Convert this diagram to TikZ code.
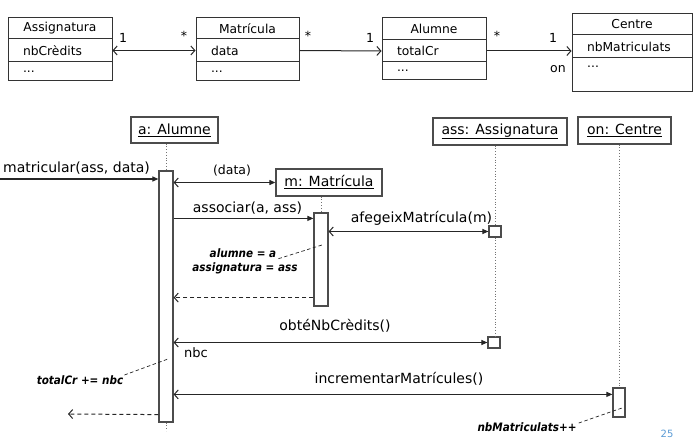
\documentclass[tikz,border=0pt]{standalone}
\usepackage{fontspec}
\setmainfont{DejaVu Sans}
\newfontfamily\notefont[FakeStretch=0.9]{DejaVu Sans}
\usetikzlibrary{arrows.meta,calc}
\definecolor{pagenum}{RGB}{91,155,213}
\begin{document}
\begin{tikzpicture}[x=1pt,y=-1pt,
  cmp/.style={draw=black!80, line width=1pt, inner ysep=0pt, inner xsep=0pt, font=\fontsize{12.3}{14}\selectfont},
  cmpl/.style={cmp, inner xsep=15pt, align=left},
  mult/.style={inner sep=0pt, font=\fontsize{12.5}{14}\selectfont},
  obj/.style={draw=black!70, line width=1.3pt, fill=white, inner sep=0pt, font=\fontsize{14}{16}\selectfont},
  act/.style={draw=black!70, line width=1.2pt, fill=white, inner sep=0pt},
  life/.style={draw=black!55, line width=0.8pt, dotted},
  msg/.style={draw=black!85, line width=1.1pt},
  ret/.style={draw=black!85, line width=1pt, dashed, dash pattern=on 4pt off 3pt},
  notel/.style={draw=black!85, line width=0.7pt, dash pattern=on 3.5pt off 2.5pt},
  lbl/.style={inner sep=0pt, font=\fontsize{14}{16}\selectfont},
  note/.style={inner sep=1pt, font=\notefont\fontsize{11.6}{13}\selectfont\bfseries\itshape},
  fhead/.tip={Triangle[length=6pt,width=5pt]},
  ohead/.tip={Straight Barb[length=4pt,width=9pt,line width=1pt]}
]
\useasboundingbox (0,0) rectangle (698,443);

% ---------- class diagram ----------
% Assignatura
\node[cmp, minimum width=104pt, minimum height=21pt] (assigT) at (60,28.5) {Assignatura};
\node[cmpl, text width=74pt, minimum height=23pt] (assigA) at (60,50.5) {nbCrèdits};
\node[cmpl, text width=74pt, minimum height=19pt] (assigO) at (60,71.5) {...};
% Matricula
\node[cmp, minimum width=103pt, minimum height=21pt] (matT) at (247.5,28.5) {Matrícula};
\node[cmpl, text width=73pt, minimum height=23pt] (matA) at (247.5,50.5) {data};
\node[cmpl, text width=73pt, minimum height=19pt] (matO) at (247.5,71.5) {...};
% Alumne
\node[cmp, minimum width=104pt, minimum height=22pt] (alumT) at (434,29) {Alumne};
\node[cmpl, text width=74pt, minimum height=22pt] (alumA) at (434,51) {totalCr};
\node[cmpl, text width=74pt, minimum height=18pt] (alumO) at (434,71) {...};
% Centre
\node[cmp, minimum width=120pt, minimum height=21pt] (centT) at (632,24.5) {Centre};
\node[cmpl, text width=90pt, minimum height=23pt] (centA) at (632,46.5) {nbMatriculats};
\node[cmp, minimum width=120pt, minimum height=34pt] (centO) at (632,75) {};
\node[inner sep=0pt, font=\fontsize{12.3}{14}\selectfont, anchor=west] (centOT) at (587,67) {...};

% associations
\draw[msg, line width=1pt, ohead-ohead] (assigA.east) -- (matA.west);
\draw[msg, line width=1pt, -ohead] (matA.east) -- (alumA.west);
\draw[msg, line width=1pt, -ohead] (alumA.east) -- (alumA.east -| centA.west);
\node[mult] (m1) at (123,38) {1};
\node[mult] (m2) at (184,36) {*};
\node[mult] (m3) at (308,36) {*};
\node[mult] (m4) at (370,38) {1};
\node[mult] (m5) at (497,36) {*};
\node[mult] (m6) at (553,38) {1};
\node[mult] (m7) at (558,69) {on};

% ---------- sequence diagram ----------
\node[obj, minimum width=87pt, minimum height=26pt] (aBox) at (174.5,130) {\underline{a: Alumne}};
\node[obj, minimum width=106pt, minimum height=27pt] (mBox) at (329,182.5) {\underline{m: Matrícula}};
\node[obj, minimum width=134pt, minimum height=27pt] (sBox) at (500,131.5) {\underline{ass: Assignatura}};
\node[obj, minimum width=93pt, minimum height=27pt] (oBox) at (624.5,130.5) {\underline{on: Centre}};

\node[act, minimum width=14pt, minimum height=251pt] (actA) at (166,296.5) {};
\node[act, minimum width=14pt, minimum height=93pt] (actM) at (321,259.5) {};
\node[act, minimum width=12pt, minimum height=11pt] (ass1) at (495,231.5) {};
\node[act, minimum width=12pt, minimum height=11pt] (ass2) at (494,342.5) {};
\node[act, minimum width=12pt, minimum height=29pt] (actOn) at (619,402.5) {};

% lifelines
\coordinate (aEnd) at (166,431);
\draw[life] (aBox.south -| actA.north) -- (actA.north);
\draw[life] (actA.south) -- (aEnd);
\draw[life] (mBox.south -| actM.north) -- (actM.north);
\draw[life] (sBox.south -| ass1.north) -- (ass1.north);
\draw[life] (ass1.south) -- (ass1.south |- ass2.north);
\draw[life] (oBox.south -| actOn.north) -- (actOn.north);

% messages
\coordinate (start) at (0,179);
\draw[msg, -fhead] (start) -- (start -| actA.west);
\node[lbl, anchor=base west] (l1) at (3,173) {matricular(ass, data)};

\draw[msg, ohead-fhead] (mBox.west -| actA.east) -- (mBox.west);
\node[inner sep=0pt, font=\fontsize{12.5}{14}\selectfont] (l2) at (232,171) {(data)};

\coordinate (p3) at ($(actM.north west)+(0,6)$);
\draw[msg, -fhead] (p3 -| actA.east) -- (p3);
\node[lbl] (l3) at (247.5,208) {associar(a, ass)};

\draw[msg, ohead-fhead] (ass1.west -| actM.east) -- (ass1.west);
\node[lbl] (l4) at (421.5,218) {afegeixMatrícula(m)};

\node[note] (n1a) at (243,253) {alumne = a};
\node[note] (n1b) at (245,268) {assignatura = ass};
\coordinate (n1c) at (322,245);
\draw[notel] ($(n1a.south east)+(1,0)$) -- (n1c);

\coordinate (r1) at ($(actM.south west)+(0,-9)$);
\draw[ret, -ohead] (r1) -- (r1 -| actA.east);

\draw[msg, ohead-fhead] (ass2.west -| actA.east) -- (ass2.west);
\node[lbl] (l5) at (335,326) {obtéNbCrèdits()};
\node[inner sep=0pt, font=\fontsize{13}{15}\selectfont] (l6) at (196,353) {nbc};

\node[note] (n2) at (80,380) {totalCr += nbc};
\coordinate (n2c) at (168,359);
\draw[notel] ($(n2.east)+(0,-5)$) -- (n2c);

\coordinate (p7) at ($(actOn.north west)+(0,7)$);
\draw[msg, ohead-fhead] (p7 -| actA.east) -- (p7);
\node[lbl] (l7) at (399,379) {incrementarMatrícules()};

\node[note] (n3) at (527,427) {nbMatriculats++};
\coordinate (n3c) at (622,408);
\draw[notel] ($(n3.east)+(1,-4)$) -- (n3c);

\coordinate (r2) at ($(actA.south west)+(0,-8)$);
\coordinate (r2end) at (68,414);
\draw[ret, -ohead] (r2) -- (r2end);

\node[inner sep=0pt, text=pagenum, font=\fontsize{10}{12}\selectfont] (pg) at (667,434) {25};
\end{tikzpicture}
\end{document}
